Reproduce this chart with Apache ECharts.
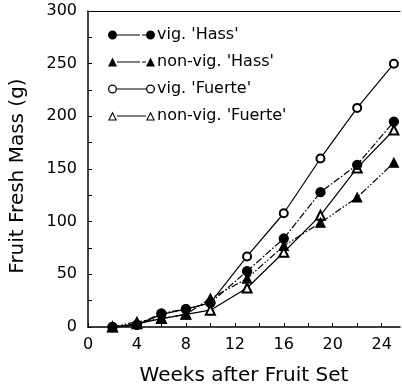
<!DOCTYPE html>
<html>
<head>
<meta charset="utf-8">
<script src="https://cdn.jsdelivr.net/npm/echarts@6/dist/echarts.min.js"></script>
<style>
  html, body { margin: 0; padding: 0; background: #fff; }
  #chart { width: 402px; height: 391px; }
</style>
</head>
<body>
<div id="chart"></div>
<script>
// weeks after fruit set
const weeks = [2, 4, 6, 8, 10, 13, 16, 19, 22, 25];
// fruit fresh mass (g)
const vigHass = [0, 2, 13, 17, 23, 53, 84, 128, 154, 195];
const nonVigHass = [0, 5, 8, 12, 27, 46, 77, 99, 123, 156];
const vigFuerte = [0, 2, 12, 17, 23, 67, 108, 160, 208, 250];
const nonVigFuerte = [0, 3, 8, 12, 16, 37, 71, 106, 151, 187];
const xLabels = [0, 4, 8, 12, 16, 20, 24];
const xTicks = [0, 2, 4, 6, 8, 10, 12, 14, 16, 18, 20, 22, 24];

const font = 'DejaVu Sans';
const pair = (ys) => weeks.map((w, i) => [w, ys[i]]);

// legend icons: marker —— marker
const ring = (cx) => `M${cx - 4.5},4.5 A4.5,4.5 0 1 1 ${cx + 4.5},4.5 A4.5,4.5 0 1 1 ${cx - 4.5},4.5 Z ` +
  `M${cx - 3.2},4.5 A3.2,3.2 0 1 0 ${cx + 3.2},4.5 A3.2,3.2 0 1 0 ${cx - 3.2},4.5 Z`;
const dot = (cx) => `M${cx - 4.5},4.5 A4.5,4.5 0 1 1 ${cx + 4.5},4.5 A4.5,4.5 0 1 1 ${cx - 4.5},4.5 Z`;
const tri = (cx) => `M${cx - 4.5},9 L${cx},0 L${cx + 4.5},9 Z`;
const openTri = (cx) => tri(cx) + ` M${cx - 2.8},8 L${cx + 2.8},8 L${cx},2.4 Z`;
const solidLine = 'M9,4 L38,4 L38,5 L9,5 Z';
const brokenLine = 'M9,4 L32,4 L32,5 L9,5 Z M34,4 L38,4 L38,5 L34,5 Z';
const icon = (a, line) => 'path://' + a(4.5) + ' ' + line + ' ' + a(42.5);

const chart = echarts.init(document.getElementById('chart'));

const base = {
  type: 'line',
  color: '#000',
  lineStyle: { color: '#000', width: 1.2 },
  itemStyle: { color: '#000', borderColor: '#000', borderWidth: 1.3 },
  emphasis: { disabled: true },
  animation: false
};

chart.setOption({
  backgroundColor: '#fff',
  animation: false,
  textStyle: { fontFamily: font, color: '#000' },
  grid: { left: 87, right: 2, top: 11, bottom: 63 },
  legend: {
    orient: 'vertical',
    left: 103,
    top: 22,
    itemWidth: 47,
    itemHeight: 9,
    itemGap: 11,
    textStyle: { fontFamily: font, fontSize: 16, color: '#000', padding: [0, 0, 0, -3] },
    data: [
      { name: "vig. 'Hass'", icon: icon(dot, brokenLine), itemStyle: { color: '#000', borderWidth: 0 } },
      { name: "non-vig. 'Hass'", icon: icon(tri, brokenLine), itemStyle: { color: '#000', borderWidth: 0 } },
      { name: "vig. 'Fuerte'", icon: icon(ring, solidLine), itemStyle: { color: '#000', borderWidth: 0 } },
      { name: "non-vig. 'Fuerte'", icon: icon(openTri, solidLine), itemStyle: { color: '#000', borderWidth: 0 } }
    ]
  },
  xAxis: [{
    type: 'value',
    min: 0,
    max: 25.5,
    interval: 4,
    name: 'Weeks after Fruit Set',
    nameLocation: 'middle',
    nameGap: 39,
    nameTextStyle: { fontFamily: font, fontSize: 20, color: '#000' },
    axisLine: { show: true, lineStyle: { color: '#000', width: 1.5 } },
    axisTick: { show: true, inside: true, length: 4, customValues: xTicks, lineStyle: { color: '#000' } },
    axisLabel: { customValues: xLabels, margin: 10, fontFamily: font, fontSize: 16, color: '#000' },
    splitLine: { show: false }
  }, {
    type: 'value',
    position: 'top',
    min: 0,
    max: 25.5,
    axisLine: { show: true, onZero: false, lineStyle: { color: '#000', width: 1.2 } },
    axisTick: { show: false },
    axisLabel: { show: false },
    splitLine: { show: false }
  }],
  yAxis: {
    type: 'value',
    min: 0,
    max: 300,
    interval: 50,
    name: 'Fruit Fresh Mass (g)',
    nameLocation: 'middle',
    nameGap: 60,
    nameRotate: 90,
    nameTextStyle: { fontFamily: font, fontSize: 20, color: '#000', padding: [0, 14, 0, 0] },
    axisLine: { show: true, lineStyle: { color: '#000', width: 1.5 } },
    axisTick: { show: true, inside: true, length: 4, lineStyle: { color: '#000' } },
    minorTick: { show: true, splitNumber: 2, length: 4, lineStyle: { color: '#000' } },
    axisLabel: { margin: 11, fontFamily: font, fontSize: 16, color: '#000' },
    splitLine: { show: false }
  },
  series: [
    Object.assign({}, base, {
      name: "vig. 'Hass'",
      data: pair(vigHass),
      symbol: 'circle',
      symbolSize: 9,
      lineStyle: { color: '#000', width: 1.2, type: [7, 2, 1.5, 2] },
      z: 4
    }),
    Object.assign({}, base, {
      name: "non-vig. 'Hass'",
      data: pair(nonVigHass),
      symbol: 'triangle',
      symbolSize: 9,
      lineStyle: { color: '#000', width: 1.2, type: [7, 2, 1.5, 2, 1.5, 2] },
      z: 3
    }),
    Object.assign({}, base, {
      name: "vig. 'Fuerte'",
      data: pair(vigFuerte),
      symbol: 'emptyCircle',
      symbolSize: 8,
      lineStyle: { color: '#000', width: 1.2 },
      z: 2
    }),
    Object.assign({}, base, {
      name: "non-vig. 'Fuerte'",
      data: pair(nonVigFuerte),
      symbol: 'emptyTriangle',
      symbolSize: 9,
      lineStyle: { color: '#000', width: 1.2 },
      z: 2
    })
  ]
});
</script>
</body>
</html>
